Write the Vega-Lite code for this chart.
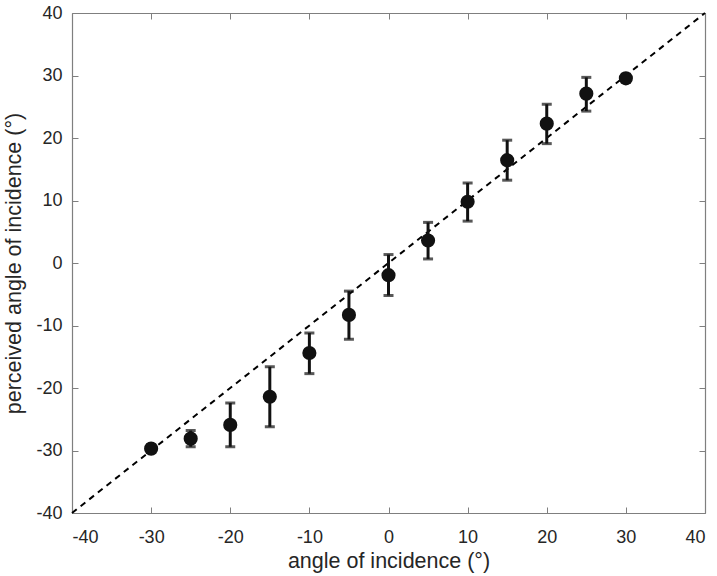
{
  "$schema": "https://vega.github.io/schema/vega-lite/v6.json",
  "width": 633,
  "height": 500,
  "autosize": {"type": "none"},
  "padding": {"left": 72, "top": 13, "right": 12, "bottom": 63},
  "background": "white",
  "config": {
    "view": {"stroke": null},
    "font": "Liberation Sans",
    "axis": {
      "domainColor": "#7f7f7f",
      "domainWidth": 1.2,
      "tickColor": "#7f7f7f",
      "tickSize": -6,
      "tickWidth": 1,
      "grid": false,
      "labelColor": "#262626",
      "labelFontSize": 18,
      "labelFont": "Liberation Sans",
      "labelExpr": "toString(datum.value)",
      "titleColor": "#262626",
      "titleFontSize": 21.5,
      "titleFont": "Liberation Sans",
      "titleFontWeight": "normal"
    }
  },
  "datasets": {
    "pts": [
      {"x": -30, "y": -29.7, "lo": -30.3, "hi": -29.1},
      {"x": -25, "y": -28.1, "lo": -29.4, "hi": -26.8},
      {"x": -20, "y": -25.9, "lo": -29.4, "hi": -22.4},
      {"x": -15, "y": -21.4, "lo": -26.2, "hi": -16.6},
      {"x": -10, "y": -14.4, "lo": -17.7, "hi": -11.2},
      {"x": -5, "y": -8.3, "lo": -12.2, "hi": -4.5},
      {"x": 0, "y": -1.95, "lo": -5.2, "hi": 1.35},
      {"x": 5, "y": 3.6, "lo": 0.65, "hi": 6.5},
      {"x": 10, "y": 9.8, "lo": 6.7, "hi": 12.8},
      {"x": 15, "y": 16.45, "lo": 13.25, "hi": 19.65},
      {"x": 20, "y": 22.3, "lo": 19.1, "hi": 25.4},
      {"x": 25, "y": 27.1, "lo": 24.3, "hi": 29.7},
      {"x": 30, "y": 29.55, "lo": 28.9, "hi": 30.2}
    ],
    "diag": [
      {"x": -40, "y": -40},
      {"x": 40, "y": 40}
    ]
  },
  "layer": [
    {
      "data": {"name": "diag"},
      "mark": {"type": "line", "color": "black", "strokeWidth": 2, "strokeDash": [6, 5]},
      "encoding": {
        "x": {"field": "x", "type": "quantitative", "scale": {"domain": [-40, 40], "nice": false},
          "axis": {"values": [-40, -30, -20, -10, 0, 10, 20, 30, 40], "title": "angle of incidence (°)", "labelPadding": 21, "titlePadding": 4}},
        "y": {"field": "y", "type": "quantitative", "scale": {"domain": [-40, 40], "nice": false},
          "axis": {"values": [-40, -30, -20, -10, 0, 10, 20, 30, 40], "title": "perceived angle of incidence (°)", "labelPadding": 16, "titlePadding": 10}}
      }
    },
    {
      "data": {"name": "pts"},
      "mark": {"type": "rule", "color": "#111111", "strokeWidth": 3},
      "encoding": {
        "x": {"field": "x", "type": "quantitative", "axis": null},
        "y": {"field": "lo", "type": "quantitative", "axis": null},
        "y2": {"field": "hi"}
      }
    },
    {
      "data": {"name": "pts"},
      "mark": {"type": "tick", "color": "#111111", "orient": "horizontal", "size": 10, "thickness": 3},
      "encoding": {
        "x": {"field": "x", "type": "quantitative", "axis": null},
        "y": {"field": "lo", "type": "quantitative", "axis": null}
      }
    },
    {
      "data": {"name": "pts"},
      "mark": {"type": "tick", "color": "#111111", "orient": "horizontal", "size": 10, "thickness": 3},
      "encoding": {
        "x": {"field": "x", "type": "quantitative", "axis": null},
        "y": {"field": "hi", "type": "quantitative", "axis": null}
      }
    },
    {
      "data": {"name": "pts"},
      "mark": {"type": "circle", "color": "#111111", "opacity": 1, "size": 200},
      "encoding": {
        "x": {"field": "x", "type": "quantitative", "axis": null},
        "y": {"field": "y", "type": "quantitative", "axis": null}
      }
    },
    {
      "data": {"name": "diag"},
      "mark": {"type": "point", "opacity": 0},
      "encoding": {
        "x": {"field": "x", "type": "quantitative",
          "axis": {"orient": "top", "values": [-40, -30, -20, -10, 0, 10, 20, 30, 40], "labels": false, "title": null}},
        "y": {"field": "y", "type": "quantitative",
          "axis": {"orient": "right", "values": [-40, -30, -20, -10, 0, 10, 20, 30, 40], "labels": false, "title": null}}
      }
    }
  ],
  "resolve": {"axis": {"x": "independent", "y": "independent"}}
}
